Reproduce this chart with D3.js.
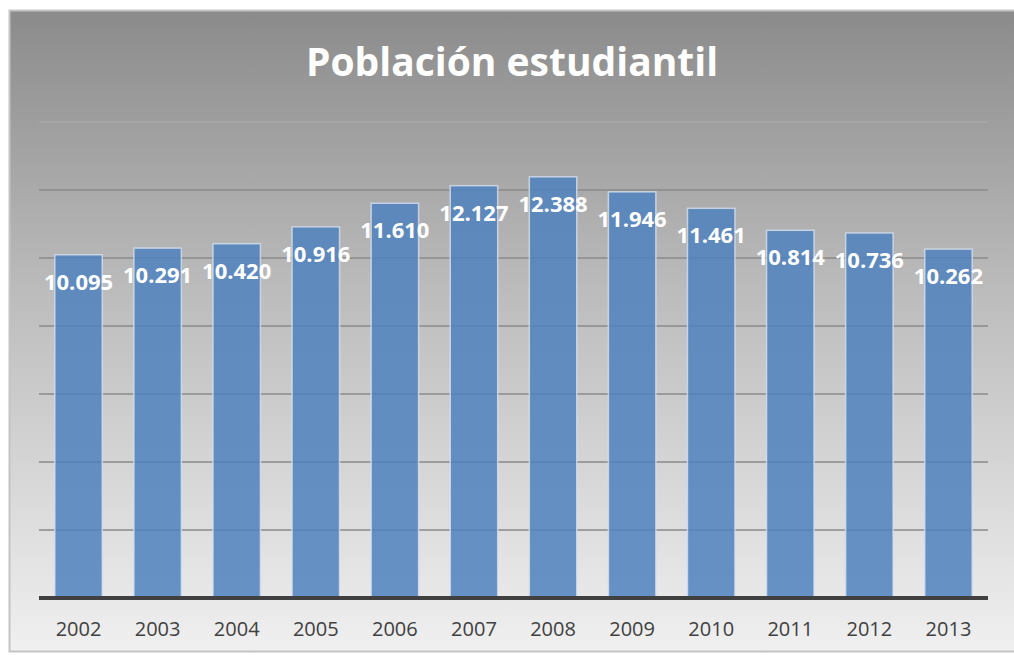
<!DOCTYPE html>
<html>
<head>
<meta charset="utf-8">
<script src="https://cdn.jsdelivr.net/npm/d3@7"></script>
<style>
  body { margin: 0; background: #fff; }
  text { font-family: "Open Sans", sans-serif; }
</style>
</head>
<body>
<div id="chart"></div>
<script>
const years = ["2002", "2003", "2004", "2005", "2006", "2007", "2008", "2009", "2010", "2011", "2012", "2013"];
const students = [10095, 10291, 10420, 10916, 11610, 12127, 12388, 11946, 11461, 10814, 10736, 10262];
const yTicks = [0, 2000, 4000, 6000, 8000, 10000, 12000, 14000];

const width = 1014;
const height = 655;

const fmt = d3.formatLocale({ decimal: ",", thousands: ".", grouping: [3], currency: ["", ""] }).format(",d");

const svg = d3
  .select("#chart")
  .append("svg")
  .attr("width", width)
  .attr("height", height);

const grad = svg
  .append("defs")
  .append("linearGradient")
  .attr("id", "bg")
  .attr("x1", 0)
  .attr("y1", 0)
  .attr("x2", 0)
  .attr("y2", 1);
grad.append("stop").attr("offset", "0%").attr("stop-color", "#8b8b8b");
grad.append("stop").attr("offset", "45%").attr("stop-color", "#bdbdbd");
grad.append("stop").attr("offset", "100%").attr("stop-color", "#f0f0f0");

svg
  .append("rect")
  .attr("x", 9.5)
  .attr("y", 10.5)
  .attr("width", 1010)
  .attr("height", 641)
  .attr("fill", "url(#bg)")
  .attr("stroke", "#c4c4c4")
  .attr("stroke-width", 2);

const x = d3
  .scaleBand()
  .domain(years)
  .range([39, 988])
  .paddingInner(0.4)
  .paddingOuter(0.2);

const y = d3.scaleLinear().domain([0, 14000]).range([598, 122]);

// gridlines
svg
  .append("g")
  .selectAll("line")
  .data(yTicks.slice(1))
  .enter()
  .append("line")
  .attr("x1", 39)
  .attr("x2", 988)
  .attr("y1", (d) => y(d))
  .attr("y2", (d) => y(d))
  .attr("stroke", (d) => (d === 14000 ? "#a8a8a8" : "#8a8a8a"))
  .attr("stroke-width", 1.3);

// bars
svg
  .append("g")
  .selectAll("rect")
  .data(students)
  .enter()
  .append("rect")
  .attr("x", (d, i) => x(years[i]))
  .attr("y", (d) => y(d))
  .attr("width", x.bandwidth())
  .attr("height", (d) => y(0) - y(d))
  .attr("fill", "rgb(79,129,189)")
  .attr("fill-opacity", 0.85)
  .attr("stroke", "#d6e0ee")
  .attr("stroke-opacity", 0.8)
  .attr("stroke-width", 1.5);

// baseline
svg
  .append("line")
  .attr("x1", 39)
  .attr("x2", 988)
  .attr("y1", y(0))
  .attr("y2", y(0))
  .attr("stroke", "#404040")
  .attr("stroke-width", 4);

// value labels
svg
  .append("g")
  .selectAll("text")
  .data(students)
  .enter()
  .append("text")
  .attr("x", (d, i) => x(years[i]) + x.bandwidth() / 2)
  .attr("y", (d) => y(d) + 35)
  .attr("text-anchor", "middle")
  .attr("fill", "#fff")
  .attr("font-weight", "bold")
  .attr("font-size", "22px")
  .text((d) => fmt(d));

// x axis labels
const xAxis = d3.axisBottom(x).tickSize(0).tickPadding(0);
const gx = svg
  .append("g")
  .attr("transform", `translate(0,${y(0)})`)
  .call(xAxis);
gx.select(".domain").remove();
gx.selectAll("text")
  .attr("dy", null)
  .attr("y", 38)
  .attr("fill", "#404040")
  .attr("font-size", "20px")
  .attr("font-family", "Open Sans, sans-serif");

// title
svg
  .append("text")
  .attr("x", 512)
  .attr("y", 76)
  .attr("text-anchor", "middle")
  .attr("fill", "#fff")
  .attr("font-weight", "bold")
  .attr("font-size", "39px")
  .text("Población estudiantil");
</script>
</body>
</html>
